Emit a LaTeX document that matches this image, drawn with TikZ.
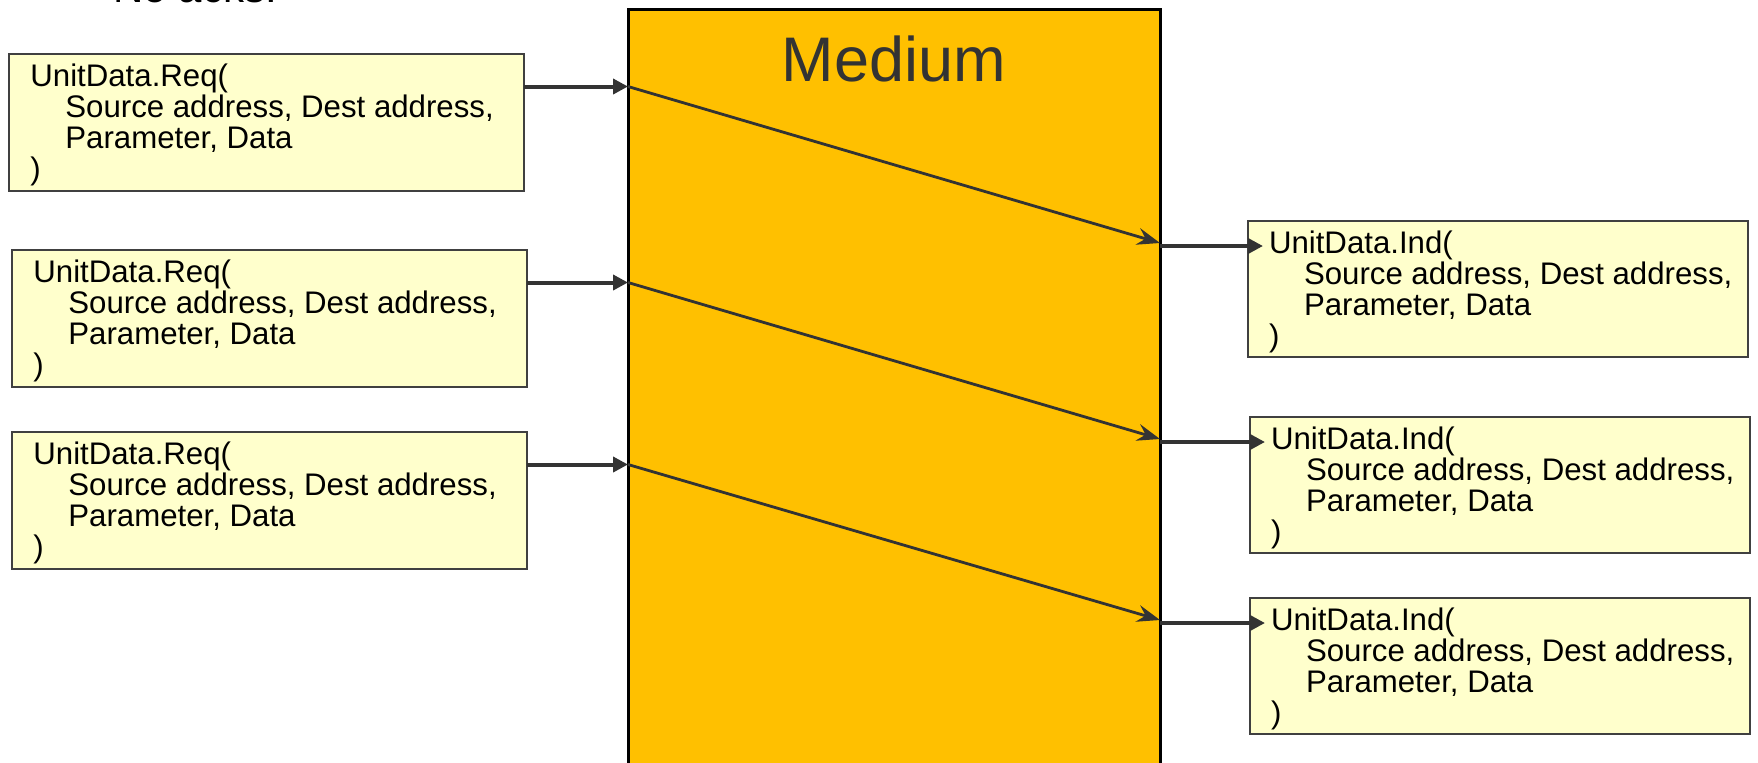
\documentclass[tikz,border=0pt]{standalone}
\usepackage{fontspec}
\setmainfont{Liberation Sans}
\usetikzlibrary{arrows.meta}
\definecolor{medfill}{HTML}{FFC000}
\definecolor{boxfill}{HTML}{FFFFCC}
\definecolor{boxline}{HTML}{404040}
\definecolor{arrowc}{HTML}{333333}
\begin{document}
\begin{tikzpicture}[x=0.5pt,y=-0.5pt,
  reqbox/.style={draw=boxline, fill=boxfill, line width=1pt, minimum width=257.5pt, minimum height=68.5pt, inner sep=0pt, outer sep=0pt, anchor=north west},
  indbox/.style={draw=boxline, fill=boxfill, line width=1pt, minimum width=250pt, minimum height=68pt, inner sep=0pt, outer sep=0pt, anchor=north west},
  boxtext/.style={anchor=north west, align=left, inner sep=0pt, outer sep=0pt, font=\fontsize{15.6pt}{15.4pt}\selectfont},
  harrow/.style={draw=arrowc, line width=2pt, -{Triangle[length=7.5pt,width=7.5pt]}},
  darrow/.style={draw=arrowc, line width=1.4pt, -{Stealth[length=11.5pt,width=8.5pt,inset=4pt]}}]
\useasboundingbox (0,0) rectangle (1758,762);

% partially visible heading
\node[anchor=base west, inner sep=0pt, font=\fontsize{21pt}{25pt}\selectfont] (noacks) at (113,2) {No acks.};

% medium
\node[draw=black, fill=medfill, line width=1.5pt, minimum width=266pt, minimum height=390pt, inner sep=0pt, outer sep=0pt, anchor=north west] (medium) at (628,9) {};
\node[anchor=base, inner sep=0pt, text=arrowc, font=\fontsize{31.5pt}{36pt}\selectfont] (mtitle) at ([yshift=-36pt]medium.north) {Medium};

% request boxes
\node[reqbox] (req1) at (9,54) {};
\node[reqbox] (req2) at (12,250) {};
\node[reqbox] (req3) at (12,432) {};
\foreach \b in {1,2,3}{
  \node[boxtext] (req\b t) at ([xshift=10.7pt,yshift=-5pt]req\b.north west)
    {UnitData.Req(\\\hspace*{17.5pt}Source address, Dest address,\\\hspace*{17.5pt}Parameter, Data\\)};
}

% indication boxes
\node[indbox] (ind1) at (1248,221) {};
\node[indbox] (ind2) at (1250,417) {};
\node[indbox] (ind3) at (1250,598) {};
\foreach \b in {1,2,3}{
  \node[boxtext] (ind\b t) at ([xshift=10.5pt,yshift=-5pt]ind\b.north west)
    {UnitData.Ind(\\\hspace*{17.5pt}Source address, Dest address,\\\hspace*{17.5pt}Parameter, Data\\)};
}

% ports
\foreach \b in {1,2,3}{
  \coordinate (p\b) at ([yshift=-16.25pt]req\b.north east);
  \coordinate (q\b) at ([xshift=7.5pt,yshift=-12.5pt]ind\b.north west);
  \draw[harrow] (p\b) -- (p\b -| medium.west);
  \draw[darrow] (p\b -| medium.west) -- ([yshift=1.5pt]q\b -| medium.east);
  \draw[harrow] (q\b -| medium.east) -- (q\b);
}
\end{tikzpicture}
\end{document}
